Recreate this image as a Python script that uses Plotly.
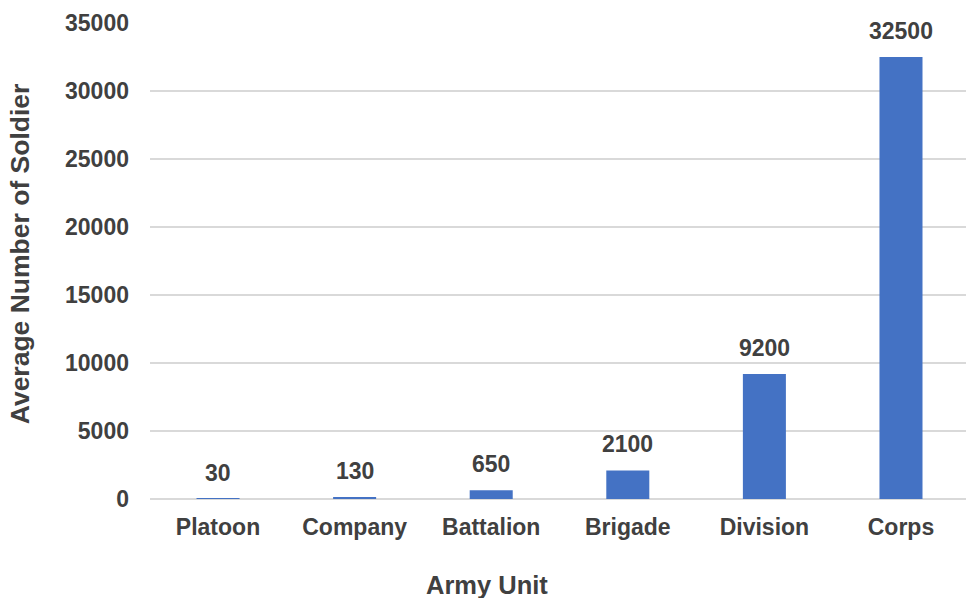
import plotly.graph_objects as go

units = ["Platoon", "Company", "Battalion", "Brigade", "Division", "Corps"]
soldiers = [30, 130, 650, 2100, 9200, 32500]
y_ticks = [0, 5000, 10000, 15000, 20000, 25000, 30000, 35000]

text_color = "#404040"
font_family = "Liberation Sans, Arial, sans-serif"

fig = go.Figure()
fig.add_trace(go.Bar(
    x=list(range(len(units))), y=soldiers,
    marker=dict(color="#4472C4", line=dict(width=0)),
    width=0.315,
    hovertext=units, hoverinfo="text+y",
))

for i, v in enumerate(soldiers):
    fig.add_annotation(
        x=i, y=v, text="<b>%d</b>" % v, showarrow=False,
        yanchor="bottom", yshift=11,
        font=dict(family=font_family, size=23, color=text_color),
    )

# axis titles
fig.add_annotation(
    xref="paper", yref="paper", x=-0.159, y=0.5147,
    text="<b>Average Number of Soldier</b>", textangle=-90, showarrow=False,
    xanchor="center", yanchor="middle",
    font=dict(family=font_family, size=26.5, color=text_color),
)
fig.add_annotation(
    xref="paper", yref="paper", x=0.413, y=-0.1807,
    text="<b>Army Unit</b>", showarrow=False,
    xanchor="center", yanchor="middle",
    font=dict(family=font_family, size=25.5, color=text_color),
)

fig.update_layout(
    width=966, height=598,
    margin=dict(l=150, r=0, t=23, b=99),
    paper_bgcolor="white", plot_bgcolor="white",
    showlegend=False,
    font=dict(family=font_family, color=text_color),
    xaxis=dict(
        range=[-0.498, 5.476],
        tickvals=list(range(len(units))), ticktext=["<b>%s</b>" % u for u in units],
        showgrid=False, showline=False, zeroline=False, ticks="",
        tickfont=dict(size=23, color=text_color, family=font_family),
        ticklabelstandoff=12,
    ),
    yaxis=dict(
        range=[0, 35000], tickvals=y_ticks, ticktext=["<b>%d</b>" % t for t in y_ticks],
        showgrid=True, gridcolor="#D9D9D9", gridwidth=1.5,
        zeroline=True, zerolinecolor="#D9D9D9", zerolinewidth=1.5,
        showline=False, ticks="",
        tickfont=dict(size=23, color=text_color, family=font_family),
        ticklabelstandoff=20,
    ),
)

fig.write_html("out.html")
